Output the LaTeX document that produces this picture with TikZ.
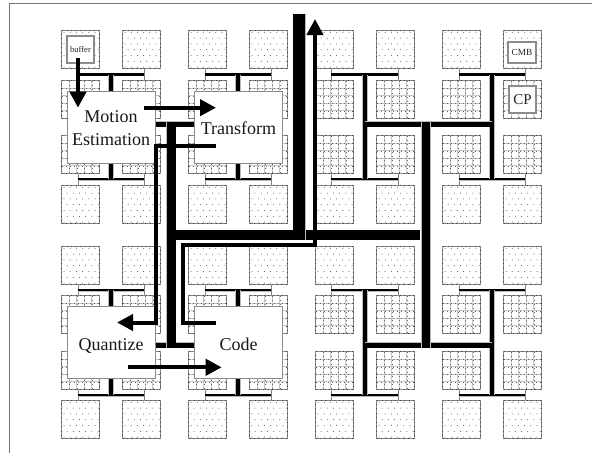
\documentclass[tikz,border=0pt]{standalone}
\usepackage{fontspec}
\setmainfont{Liberation Serif}
\usetikzlibrary{arrows.meta}
\tikzset{
  tile/.style={draw=black!48,fill=white,line width=1.1pt,minimum size=38pt,inner sep=0pt,
    postaction={draw=black!75,line width=.45pt,dash pattern=on 1pt off 3.5pt}},
  dottile/.style={tile,path picture={
    \foreach \j in {0,...,6}{
      \pgfmathsetmacro{\off}{mod(\j,2)==0 ? 2.5 : 5.6}
      \foreach \i in {0,...,5}{
        \fill[black!70] (path picture bounding box.north west) ++(\i*6.2+\off,\j*5.8+1.8) circle (.5);}}}},
  gridtile/.style={tile,path picture={
    \foreach \i in {1,...,4}{
      \draw[gray!45,line width=1pt] (path picture bounding box.north west) ++(\i*7.6,0) -- ++(0,38);
      \draw[gray!45,line width=1pt] (path picture bounding box.north west) ++(0,\i*7.6) -- ++(38,0);
      \draw[black!60,line width=.35pt,dash pattern=on 1pt off 3pt] (path picture bounding box.north west) ++(\i*7.6,0) -- ++(0,38);
      \draw[black!60,line width=.35pt,dash pattern=on 1pt off 3pt] (path picture bounding box.north west) ++(0,\i*7.6) -- ++(38,0);}
    }},
  stub/.style={draw=black!50,line width=.9pt},
  bus/.style={draw=black,line width=#1,preaction={draw=gray!55,line width=#1+.8pt}},
  task/.style={draw=black!45,fill=white,line width=1pt,inner sep=0pt,align=center,
    font=\fontsize{18}{23}\selectfont,text=black!90},
  mem/.style={draw=black!45,fill=white,line width=1.3pt,inner sep=0pt,text=black!85},
  flow/.style={draw=black,line width=4pt,-{Triangle[length=16pt,width=16pt]}}
}
\begin{document}
\begin{tikzpicture}[x=1pt,y=-1pt]
\useasboundingbox (0,0) rectangle (592,453);
\fill[white] (0,0) rectangle (592,453);
\coordinate (frameA) at (592,3);\coordinate (frameB) at (9,3);\coordinate (frameC) at (9,453);
\draw[black!55,line width=1pt] (frameA) -- (frameB) -- (frameC);
% tiles
\foreach \c/\x in {1/80.5,2/141.5,3/207.5,4/268.5,5/334.5,6/395.5,7/461.5,8/522.5}{
  \foreach \r/\y/\k in {1/49.5/dottile,2/99.5/gridtile,3/154.5/gridtile,4/204.5/dottile,
                        5/265.5/dottile,6/314.5/gridtile,7/370.5/gridtile,8/419.5/dottile}{
    \node[\k] (t\c\r) at (\x,\y) {};
  }
}
% cluster trees
\foreach \a/\b/\xa/\xb/\xs in {1/2/78/144/111,3/4/205/271/238,5/6/331/398/365,7/8/459/525/492}{
  \foreach \ra/\rb/\yy in {1/2/74.5,3/4/179,5/6/290,7/8/395}{
    \coordinate (hl\a\ra) at (\xa,\yy);
    \coordinate (hr\a\ra) at (\xb,\yy);
    \coordinate (hs\a\ra) at (\xs,\yy);
    \draw[stub] (hl\a\ra |- t\a\ra.south) -- (hl\a\ra |- t\a\rb.north);
    \draw[stub] (hr\a\ra |- t\b\ra.south) -- (hr\a\ra |- t\b\rb.north);
    \draw[bus=2.2pt] (hl\a\ra) -- (hr\a\ra);
  }
  \draw[bus=4.3pt] (hs\a1) -- (hs\a3);
  \draw[bus=4.3pt] (hs\a5) -- (hs\a7);
}
% upper levels
\coordinate (ml) at (111,124.3);\coordinate (mr) at (238,124.3);
\coordinate (nl) at (111,345);\coordinate (nr) at (238,345);
\coordinate (ol) at (365,124.3);\coordinate (or) at (492,124.3);
\coordinate (pl) at (365,345);\coordinate (pr) at (492,345);
\draw[bus=5pt] (ml) -- (mr);
\draw[bus=5pt] (nl) -- (nr);
\draw[bus=5pt] (ol) -- (or);
\draw[bus=5pt] (pl) -- (pr);
\coordinate (sa) at (171,121.8);\coordinate (sb) at (171,347.5);
\coordinate (ua) at (426,121.8);\coordinate (ub) at (426,347.5);
\draw[bus=9pt] (sa) -- (sb);
\draw[bus=8.5pt] (ua) -- (ub);
\coordinate (ra) at (166.5,235);\coordinate (rb) at (419.7,235);
\draw[bus=10pt] (ra) -- (rb);
\coordinate (top) at (299.2,13.5);\coordinate (topb) at (299.2,240);
\draw[bus=12.5pt] (top) -- (topb);
% tasks
\node[task,minimum width=88pt,minimum height=72pt] (me) at (111,127) {\rule{0pt}{14pt}Motion\\Estimation};
\node[task,minimum width=88pt,minimum height=72pt] (tr) at (238.5,127) {\rule{0pt}{14.5pt}Transform};
\node[task,minimum width=88pt,minimum height=72.5pt] (qu) at (111,342.5) {\rule{0pt}{18pt}Quantize};
\node[task,minimum width=88pt,minimum height=72.5pt] (co) at (238.5,342.5) {\rule{0pt}{16pt}Code};
\node[mem,minimum width=27pt,minimum height=27pt,font=\fontsize{8.6}{10}\selectfont] (bu) at (80.5,49.5) {buffer};
\node[mem,minimum width=28pt,minimum height=21pt,font=\fontsize{9.3}{11}\selectfont] (cmb) at (522,52.5) {CMB};
\node[mem,minimum width=27pt,minimum height=27pt,font=\fontsize{15}{17}\selectfont] (cp) at (522.5,99.5) {CP};
% data flow
\coordinate (f1a) at (78,58);\coordinate (f1b) at (78,107.7);
\draw[flow] (f1a) -- (f1b);
\coordinate (f2a) at (144.3,107.7);\coordinate (f2b) at (216,107.7);
\draw[flow] (f2a) -- (f2b);
\coordinate (f3a) at (216,145.7);\coordinate (f3c) at (155.5,145.7);\coordinate (f3d) at (155.5,322.5);\coordinate (f3b) at (117,322.5);
\draw[flow] (f3a) -- (f3c) -- (f3d) -- (f3b);
\coordinate (f4a) at (127.7,367.3);\coordinate (f4b) at (221.7,367.3);
\draw[flow] (f4a) -- (f4b);
\coordinate (f5a) at (216,322.5);\coordinate (f5c) at (183,322.5);\coordinate (f5d) at (183,245);\coordinate (f5e) at (315,245);\coordinate (f5b) at (315,19);
\draw[flow] (f5a) -- (f5c) -- (f5d) -- (f5e) -- (f5b);
\end{tikzpicture}
\end{document}
